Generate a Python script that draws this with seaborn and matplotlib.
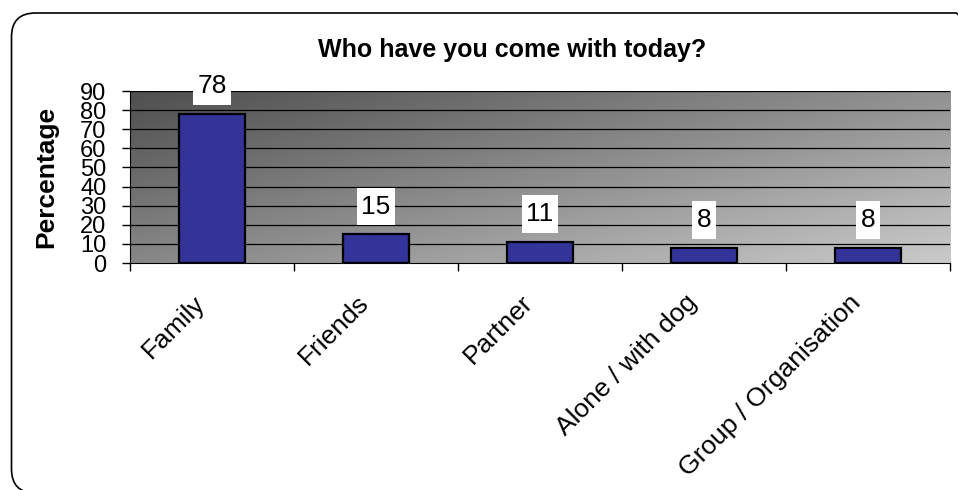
import numpy as np
import pandas as pd
import matplotlib
matplotlib.use("Agg")
import matplotlib.pyplot as plt
import matplotlib.transforms as mtransforms
from matplotlib.patches import FancyBboxPatch
from matplotlib.path import Path
from matplotlib.ticker import FixedLocator
import seaborn as sns

categories = ["Family", "Friends", "Partner", "Alone / with dog", "Group / Organisation"]
values = [78, 15, 11, 8, 8]
yticks = [0, 10, 20, 30, 40, 50, 60, 70, 80, 90]
title = "Who have you come with today?"
ylabel = "Percentage"

sns.set_theme(style="white")
plt.rcParams["font.family"] = ["Liberation Sans", "DejaVu Sans"]
plt.rcParams["text.color"] = "black"
plt.rcParams["axes.labelcolor"] = "black"
plt.rcParams["xtick.color"] = "black"
plt.rcParams["ytick.color"] = "black"

fig = plt.figure(figsize=(9.58, 4.90), dpi=100)
fig.patch.set_facecolor("white")

# rounded outer border
border = FancyBboxPatch((0.115, -0.03), 9.68, 4.80,
                        boxstyle="round,pad=0,rounding_size=0.24",
                        transform=fig.dpi_scale_trans, fill=False,
                        edgecolor="black", linewidth=1.2, zorder=0)
fig.patches.append(border)

ax = fig.add_axes([130 / 958, 1 - 263 / 490, 820 / 958, 172 / 490])

# gradient background
nx, ny = 200, 60
gx = np.linspace(0, 1, nx)[None, :]
gy = np.linspace(0, 1, ny)[:, None]  # 0 at top
grad = 0.31 + 0.26 * gx + 0.22 * gy
ax.imshow(grad, cmap="gray", vmin=0, vmax=1, extent=[0, 1, 0, 1],
          transform=ax.transAxes, aspect="auto", zorder=0, interpolation="bilinear")

df = pd.DataFrame({"cat": categories, "val": values})
sns.barplot(data=df, x="cat", y="val", order=categories, color="#333399",
            saturation=1, width=0.4, edgecolor="black", linewidth=1.6, ax=ax, zorder=3)

ax.set_xlim(-0.5, len(categories) - 0.5)
ax.set_ylim(0, 90)
ax.set_yticks(yticks)
ax.set_yticklabels([str(t) for t in yticks], fontsize=17)
for t in yticks[1:]:
    ax.axhline(t, color="black", linewidth=0.9, zorder=1)

ax.set_xlabel("")
ax.set_ylabel(ylabel, fontsize=19, fontweight="bold", labelpad=16)

# x tick marks on category boundaries, labels at centres
ax.xaxis.set_minor_locator(FixedLocator(np.arange(-0.5, len(categories), 1.0)))
ax.tick_params(axis="x", which="minor", length=6, width=1, color="black", direction="out", bottom=True)
ax.tick_params(axis="x", which="major", length=0, pad=26)
ax.tick_params(axis="y", which="major", length=6, width=1, color="black", direction="out", left=True, pad=11)
ax.set_xticks(range(len(categories)))
ax.set_xticklabels(categories, rotation=45, ha="right", va="center",
                   rotation_mode="anchor", fontsize=19)
shift = mtransforms.ScaledTranslation(-11 / 100, 0, fig.dpi_scale_trans)
for lab in ax.get_xticklabels():
    lab.set_transform(lab.get_transform() + shift)

for s in ["top", "right"]:
    ax.spines[s].set_visible(False)
ax.spines["left"].set_color("black")
ax.spines["left"].set_linewidth(0.8)
ax.spines["bottom"].set_color("black")
ax.spines["bottom"].set_linewidth(0.8)


def tall_box(x0, y0, width, height, mutation_size):
    px = 0.16 * mutation_size
    py = 0.26 * mutation_size
    x0 -= px
    y0 -= py
    x1 = x0 + width + 2 * px
    y1 = y0 + height + 2 * py
    return Path([(x0, y0), (x1, y0), (x1, y1), (x0, y1), (x0, y0)], closed=True)


for i, v in enumerate(values):
    ax.annotate(str(v), (i, v), xytext=(0, 20), textcoords="offset points",
                ha="center", va="center", fontsize=19, zorder=5,
                bbox=dict(boxstyle=tall_box, facecolor="white", edgecolor="none"))

fig.text(512 / 958, 1 - 50 / 490, title, ha="center", va="center",
         fontsize=18, fontweight="bold")

fig.savefig("out.png", dpi=100)
